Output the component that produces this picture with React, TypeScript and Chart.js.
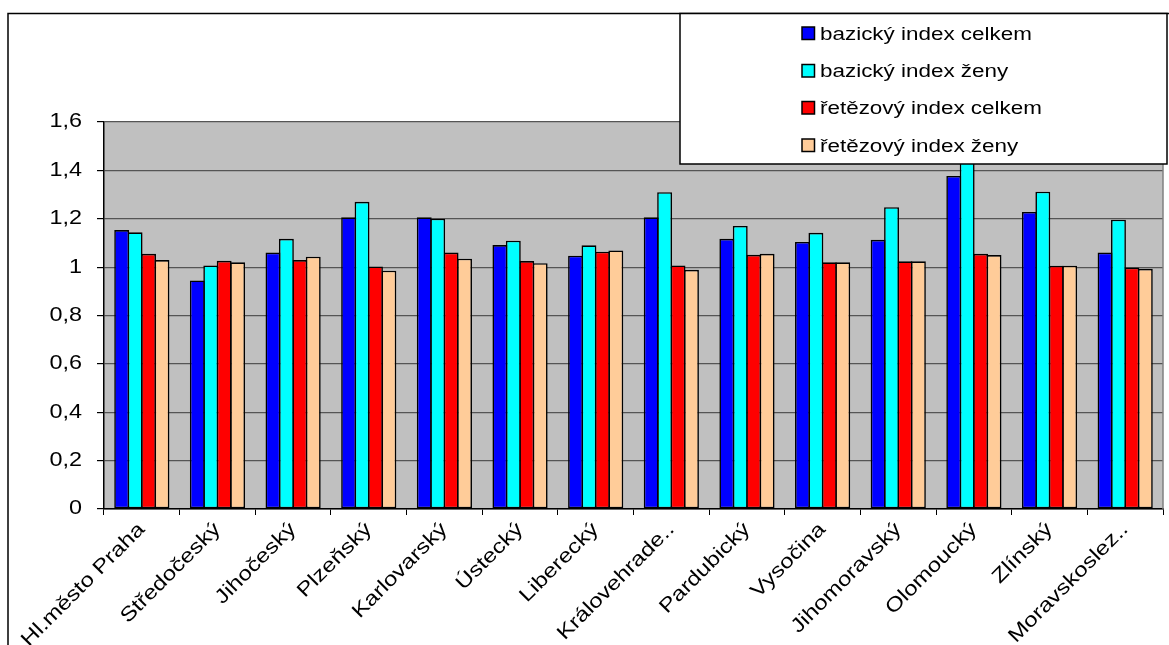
import React, { useEffect, useRef } from "react";
import { Chart, registerables } from "chart.js";

Chart.register(...registerables);

// Kraje (regions)
const regions = [
  "Hl.město Praha",
  "Středočeský",
  "Jihočeský",
  "Plzeňský",
  "Karlovarský",
  "Ústecký",
  "Liberecký",
  "Královehrade..",
  "Pardubický",
  "Vysočina",
  "Jihomoravský",
  "Olomoucký",
  "Zlínský",
  "Moravskoslez..",
];

const seriesNames = [
  "bazický index celkem",
  "bazický index ženy",
  "řetězový index celkem",
  "řetězový index ženy",
];

const bazickyCelkem = [1.153, 0.945, 1.06, 1.206, 1.206, 1.091, 1.047, 1.206, 1.117, 1.104, 1.113, 1.377, 1.228, 1.06];
const bazickyZeny = [1.144, 1.007, 1.117, 1.27, 1.2, 1.109, 1.09, 1.31, 1.17, 1.142, 1.248, 1.47, 1.312, 1.196];
const retezovyCelkem = [1.055, 1.026, 1.029, 1.003, 1.06, 1.025, 1.064, 1.007, 1.051, 1.02, 1.024, 1.055, 1.006, 0.998];
const retezovyZeny = [1.029, 1.02, 1.043, 0.985, 1.035, 1.016, 1.069, 0.989, 1.055, 1.02, 1.024, 1.05, 1.006, 0.993];

const seriesColors = ["#0000FF", "#00FFFF", "#FF0000", "#FFCC99"];

const FONT = '"Liberation Sans", Arial, sans-serif';
const TEXT_STRETCH = 1.2; // glyphs are drawn slightly wide along the baseline

// Widen every fillText along its own baseline, around its anchor point
function installWideText(ctx: any) {
  if (ctx.__wide) return;
  const orig = ctx.fillText;
  ctx.__wide = orig;
  ctx.fillText = function (text: string, x: number, y: number, maxWidth?: number) {
    const m: DOMMatrix = this.getTransform();
    this.save();
    this.setTransform(m.translate(x, y).scale(TEXT_STRETCH, 1).translate(-x, -y));
    if (maxWidth === undefined) orig.call(this, text, x, y);
    else orig.call(this, text, x, y, maxWidth);
    this.restore();
  };
}
function removeWideText(ctx: any) {
  if (!ctx.__wide) return;
  ctx.fillText = ctx.__wide;
  delete ctx.__wide;
}

// Grey plot background, outer frame and the boxed legend over the plot
const framePlugin = {
  id: "frame",
  beforeDraw(chart: any) {
    const { ctx, chartArea } = chart;
    installWideText(ctx);
    ctx.save();
    ctx.fillStyle = "#C0C0C0";
    ctx.fillRect(chartArea.left, chartArea.top, chartArea.right - chartArea.left, chartArea.bottom - chartArea.top);
    ctx.restore();
  },
  afterDraw(chart: any) {
    const { ctx, chartArea } = chart;
    ctx.save();
    // plot area right edge
    ctx.strokeStyle = "#808080";
    ctx.lineWidth = 1.5;
    ctx.beginPath();
    ctx.moveTo(chartArea.right, chartArea.top);
    ctx.lineTo(chartArea.right, chartArea.bottom);
    ctx.stroke();

    // outer chart frame
    ctx.strokeStyle = "#000";
    ctx.lineWidth = 1.5;
    ctx.beginPath();
    ctx.moveTo(8, 660);
    ctx.lineTo(8, 13.5);
    ctx.lineTo(1175, 13.5);
    ctx.stroke();

    // legend box
    const lx = 680, ly = 13.5, lw = 487, lh = 150.5;
    ctx.fillStyle = "#fff";
    ctx.fillRect(lx, ly, lw, lh);
    ctx.strokeStyle = "#000";
    ctx.lineWidth = 1.5;
    ctx.strokeRect(lx, ly, lw, lh);

    const baselines = [39.5, 77, 114, 151.5];
    chart.data.datasets.forEach((ds: any, i: number) => {
      const by = baselines[i];
      ctx.fillStyle = ds.backgroundColor;
      ctx.fillRect(802, by - 12.5, 12.5, 12.5);
      ctx.strokeStyle = "#000";
      ctx.lineWidth = 1.5;
      ctx.strokeRect(802, by - 12.5, 12.5, 12.5);
      ctx.fillStyle = "#000";
      ctx.font = `18.7px ${FONT}`;
      ctx.textBaseline = "alphabetic";
      ctx.textAlign = "left";
      ctx.fillText(ds.label, 820, by);
    });
    ctx.restore();
    removeWideText(ctx);
  },
};

export default function App() {
  const canvasRef = useRef<HTMLCanvasElement | null>(null);

  useEffect(() => {
    if (!canvasRef.current) return;
    const values = [bazickyCelkem, bazickyZeny, retezovyCelkem, retezovyZeny];
    const chart = new Chart(canvasRef.current, {
      type: "bar",
      data: {
        labels: regions,
        datasets: seriesNames.map((name, i) => ({
          label: name,
          data: values[i],
          backgroundColor: seriesColors[i],
          borderColor: "#000",
          borderWidth: 1.6,
          borderSkipped: false,
          categoryPercentage: 0.71,
          barPercentage: 1.11,
        })),
      },
      options: {
        responsive: false,
        animation: false,
        events: [],
        layout: { padding: { top: 122, right: 6, left: 0, bottom: 0 } },
        plugins: {
          legend: { display: false },
          tooltip: { enabled: false },
          title: { display: false },
        },
        scales: {
          x: {
            afterFit: (s: any) => {
              s.height = 136;
            },
            grid: {
              offset: true,
              drawOnChartArea: false,
              drawTicks: true,
              tickLength: 6,
              color: "#000",
              tickColor: "#000",
            },
            border: { display: true, color: "#000", width: 1.5 },
            ticks: {
              autoSkip: false,
              minRotation: 45,
              maxRotation: 45,
              padding: 3,
              color: "#000",
              font: { family: FONT, size: 20 },
            },
          },
          y: {
            min: 0,
            max: 1.6,
            afterFit: (s: any) => {
              s.width = 104;
            },
            grid: {
              color: "#555555",
              lineWidth: 1.2,
              tickColor: "#000",
              tickLength: 7,
            },
            border: { display: true, color: "#000", width: 1.5 },
            ticks: {
              stepSize: 0.2,
              padding: 15,
              color: "#000",
              font: { family: FONT, size: 19.5 },
              callback: (v: any) => String(Math.round(Number(v) * 10) / 10).replace(".", ","),
            },
          },
        },
      },
      plugins: [framePlugin],
    });
    return () => chart.destroy();
  }, []);

  return (
    <div style={{ position: "fixed", left: 0, top: 0, width: 1169, height: 645, background: "#fff" }}>
      <canvas ref={canvasRef} width={1169} height={645} style={{ display: "block" }} />
    </div>
  );
}
